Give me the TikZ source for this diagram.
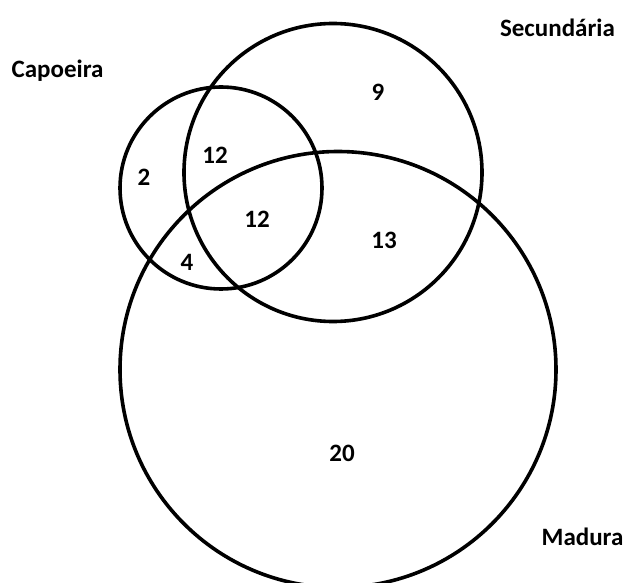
\documentclass[tikz,border=0pt]{standalone}
\usepackage{fontspec}
\setmainfont{Carlito}
\tikzset{
  vset/.style={circle, draw=black, line width=1.8pt, minimum size=#1, inner sep=0pt},
  vcount/.style={font=\bfseries\fontsize{12.5}{15}\selectfont, inner sep=0pt},
  vname/.style={font=\bfseries\fontsize{12.5}{15}\selectfont, inner sep=0pt}
}

\begin{document}
\begin{tikzpicture}[x=0.5pt, y=-0.5pt]
\useasboundingbox (0,0) rectangle (628,583);
% the three sets
\node[vset=101pt] (capoeira) at (221,188) {};
\node[vset=149pt] (secundaria) at (333,172.5) {};
\node[vset=218pt] (madura) at (338,369.5) {};
% set names
\node[vname] (capoeiraname) at (57.5,71) {Capoeira};
\node[vname] (secundarianame) at (557.5,28) {Secundária};
\node[vname] (maduraname) at (582.5,537) {Madura};
% counts
\node[vcount] (nC) at (144,177) {2};
\node[vcount] (nCS) at (215,155) {12};
\node[vcount] (nCSM) at (257,219) {12};
\node[vcount] (nCM) at (187,262) {4};
\node[vcount] (nS) at (378,92) {9};
\node[vcount] (nSM) at (384,240) {13};
\node[vcount] (nM) at (342,453) {20};
\end{tikzpicture}
\end{document}
